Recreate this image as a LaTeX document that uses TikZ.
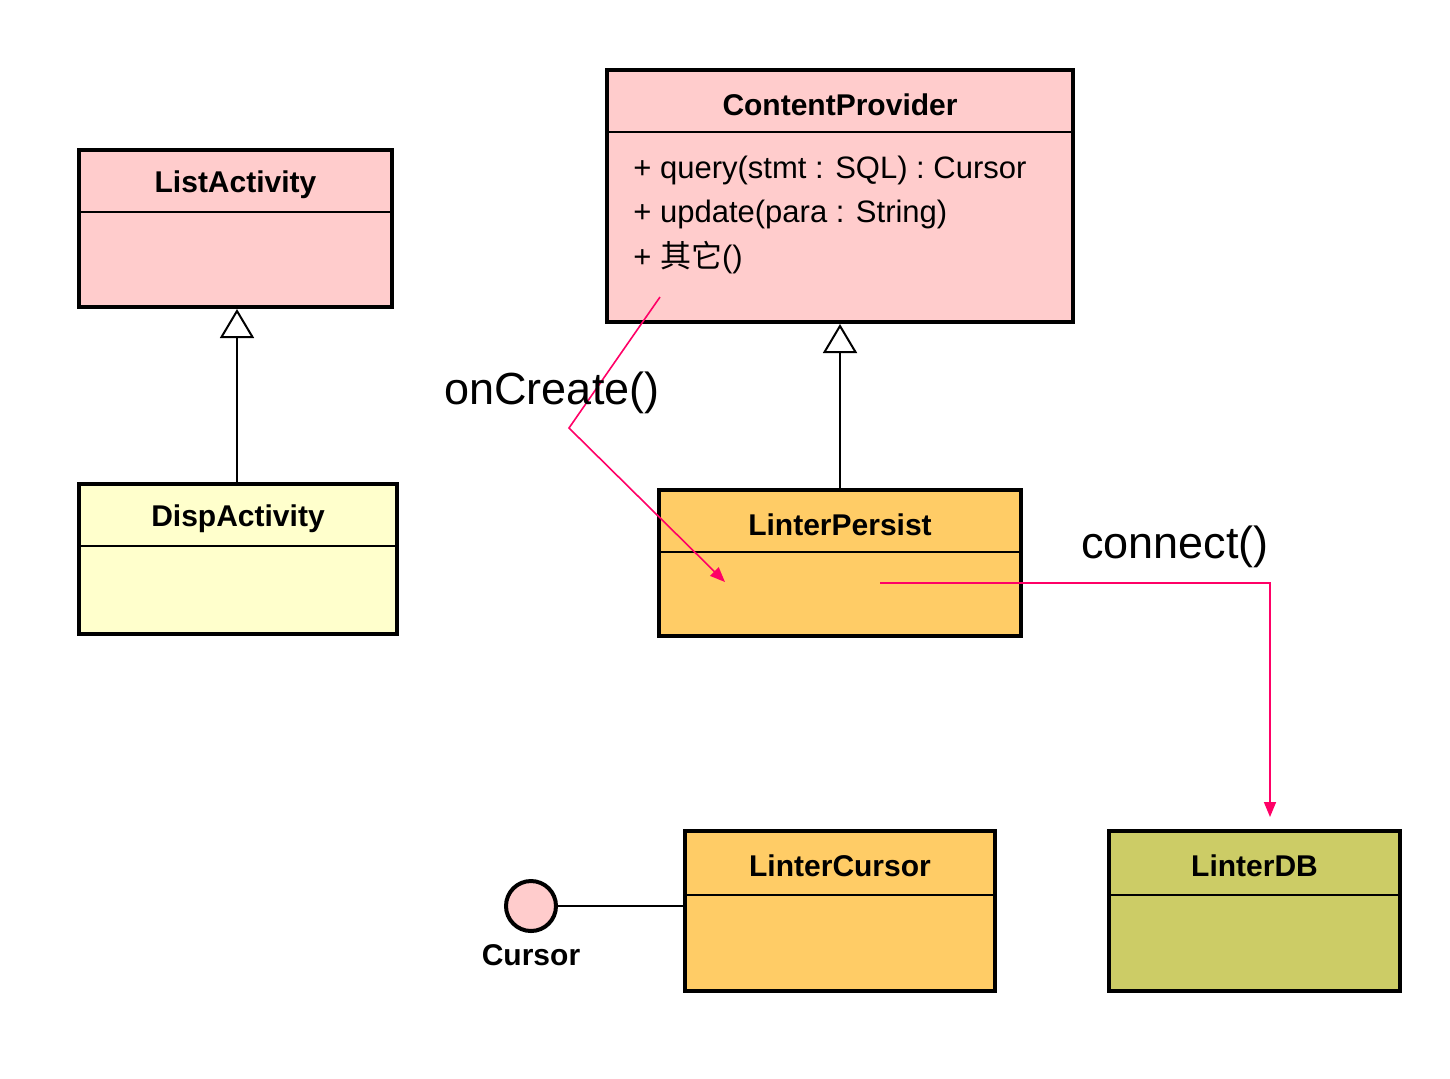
\documentclass[tikz,border=0pt]{standalone}
\usepackage{fontspec}
\setmainfont{Liberation Sans}
\newfontfamily\cjk{Noto Sans CJK SC}
\usetikzlibrary{arrows.meta,positioning}

\definecolor{umlpink}{HTML}{FFCCCC}
\definecolor{umlyellow}{HTML}{FFFFCC}
\definecolor{umlorange}{HTML}{FFCC66}
\definecolor{umlolive}{HTML}{CCCC66}
\definecolor{msgred}{HTML}{FF0066}

\tikzset{
	classbox/.style={draw=black, line width=2pt, rectangle, inner sep=0pt},
	classname/.style={font=\fontsize{15}{18}\selectfont\bfseries},
	method/.style={font=\fontsize{15.5}{18}\selectfont, anchor=base west, inner sep=0pt},
	divider/.style={line width=1pt},
	inherit/.style={line width=1pt, -{Triangle[open, length=14.5pt, width=17pt]}},
	message/.style={draw=msgred, line width=0.8pt, -{Triangle[length=7.5pt, width=6pt]}, msgred},
	msglabel/.style={font=\fontsize{22.5}{26}\selectfont, anchor=base}
}

\begin{document}
\begin{tikzpicture}[x=0.5pt, y=-0.5pt]

\useasboundingbox (0,0) rectangle (1450,1078);

% ListActivity
\node[classbox, fill=umlpink, minimum width=156.5pt, minimum height=78.5pt] (listact) at (235.5,228.5) {};
\node[classname] (listact-name) at ([yshift=-18.5pt]listact.north) {ListActivity};
\draw[divider] ([yshift=-32pt]listact.north west) -- ([yshift=-32pt]listact.north east);

% DispActivity
\node[classbox, fill=umlyellow, minimum width=159pt, minimum height=75pt] (dispact) at (238,559) {};
\node[classname] (dispact-name) at ([yshift=-18.5pt]dispact.north) {DispActivity};
\draw[divider] ([yshift=-32pt]dispact.north west) -- ([yshift=-32pt]dispact.north east);

% ContentProvider
\node[classbox, fill=umlpink, minimum width=233pt, minimum height=126pt] (provider) at (840,196) {};
\node[classname] (provider-name) at ([yshift=-18.5pt]provider.north) {ContentProvider};
\draw[divider] ([yshift=-32pt]provider.north west) -- ([yshift=-32pt]provider.north east);
\foreach \m [count=\i] in
{
	+ query(stmt : SQL) : Cursor,
	+ update(para : String),
	+ {\cjk 其它}()
}
{
	\node[method] (provider-m\i) at (633,{178+44.5*(\i-1)}) {\m};
}

% LinterPersist
\node[classbox, fill=umlorange, minimum width=181pt, minimum height=73pt] (persist) at (840,563) {};
\node[classname] (persist-name) at ([yshift=-18.5pt]persist.north) {LinterPersist};
\draw[divider] ([yshift=-32pt]persist.north west) -- ([yshift=-32pt]persist.north east);

% LinterCursor
\node[classbox, fill=umlorange, minimum width=155pt, minimum height=80pt] (lcursor) at (840,911) {};
\node[classname] (lcursor-name) at ([yshift=-18.5pt]lcursor.north) {LinterCursor};
\draw[divider] ([yshift=-33pt]lcursor.north west) -- ([yshift=-33pt]lcursor.north east);

% LinterDB
\node[classbox, fill=umlolive, minimum width=145.5pt, minimum height=80pt] (lineardb) at (1254.5,911) {};
\node[classname] (lineardb-name) at ([yshift=-18.5pt]lineardb.north) {LinterDB};
\draw[divider] ([yshift=-33pt]lineardb.north west) -- ([yshift=-33pt]lineardb.north east);

% Cursor interface
\node[circle, draw=black, line width=2pt, fill=umlpink, minimum size=25pt, inner sep=0pt] (cursor) at (531,906) {};
\node[classname, below=2pt of cursor] (cursor-name) {Cursor};
\draw[line width=1pt] (cursor.east) -- (cursor.east -| lcursor.west);

% Inheritance
\draw[inherit] (dispact.north -| 237,0) -- (listact.south -| 237,0);
\draw[inherit] (persist.north) -- (provider.south);

% onCreate()
\coordinate (create-from) at (660,297);
\coordinate (create-bend) at (569,428);
\coordinate (create-to) at (725,582);
\draw[message] (create-from) -- (create-bend) -- (create-to);
\node[msglabel] (create-label) at (552,404) {onCreate()};

% connect()
\coordinate (connect-from) at (880,583);
\coordinate (connect-to) at (1270,817);
\draw[message] (connect-from) -| (connect-to);
\node[msglabel] (connect-label) at (1175,558) {connect()};

\end{tikzpicture}
\end{document}
